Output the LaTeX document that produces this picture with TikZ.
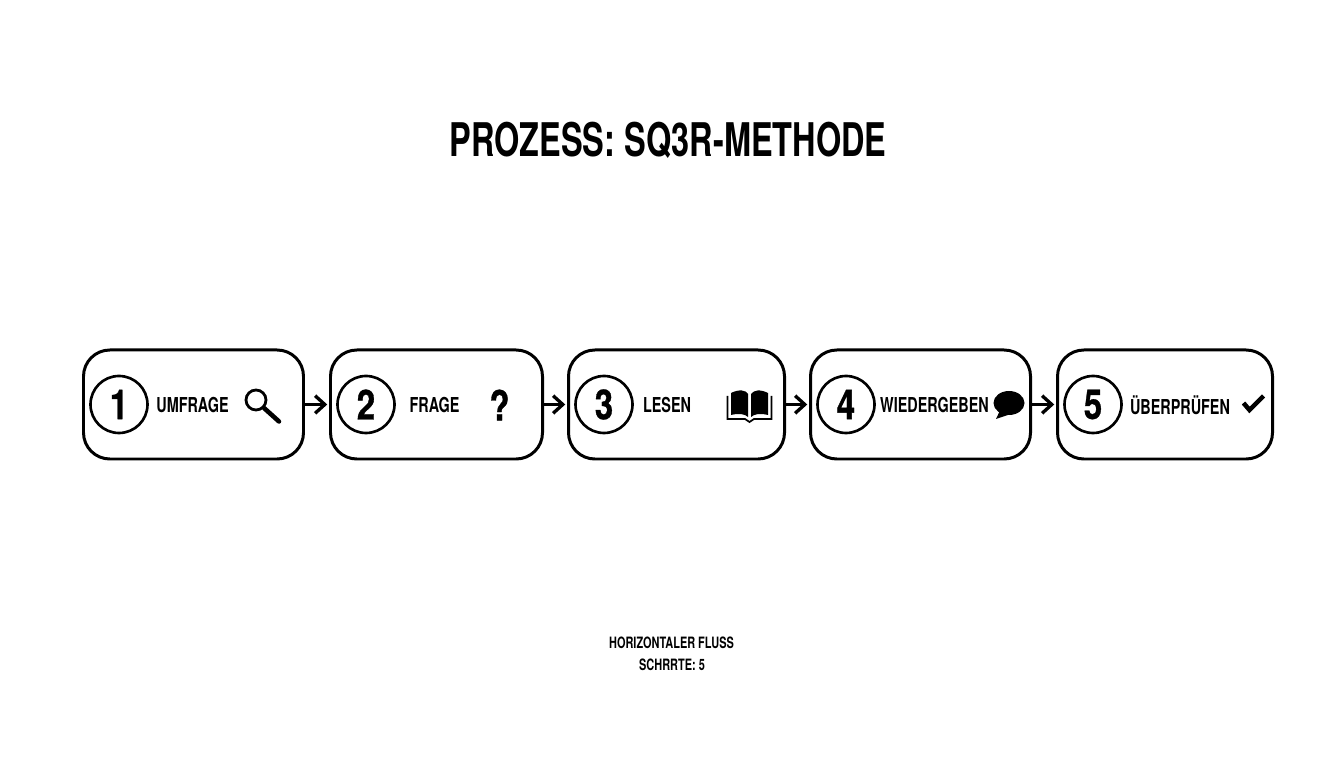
\documentclass[tikz,border=0pt]{standalone}
\usepackage{fontspec}
\setmainfont{TeX Gyre Heros}[FakeStretch=0.7,BoldFont=* Bold]
\newfontfamily\numfont{TeX Gyre Heros Bold}[FakeStretch=0.8,FakeBold=0.8]
\usetikzlibrary{arrows.meta}
\tikzset{
	stepbox/.style={draw,line width=1.7pt,rounded corners=15pt,minimum height=2.18cm,inner sep=0pt},
	numcircle/.style={circle,draw,line width=1.5pt,minimum size=1.14cm,inner sep=0pt,font=\fontsize{23.5}{24}\numfont},
	steplabel/.style={font=\fontsize{11.7}{12}\selectfont\bfseries,inner sep=0pt},
	footlabel/.style={font=\fontsize{8.9}{9}\selectfont\bfseries,inner sep=0pt},
	flow/.style={-{Straight Barb[length=5.5pt,width=10pt]},line width=1.9pt,shorten >=1pt},
}
\begin{document}
\begin{tikzpicture}
	\useasboundingbox (0,0) rectangle (26.88,15.36);
	\node[font=\fontsize{26.4}{27}\selectfont\bfseries,inner sep=0pt] (title) at (13.36,12.56) {PROZESS: SQ3R-METHODE};
	% boxes
	\node[stepbox,minimum width=4.4cm] (umfrage) at (3.87,7.27) {};
	\node[stepbox,minimum width=4.24cm] (frage) at (8.73,7.27) {};
	\node[stepbox,minimum width=4.32cm] (lesen) at (13.53,7.27) {};
	\node[stepbox,minimum width=4.4cm] (wiedergeben) at (18.41,7.27) {};
	\node[stepbox,minimum width=4.3cm] (pruefen) at (23.30,7.27) {};
	% numbers
	\node[numcircle] (n1) at (2.38,7.27) {1};
	\node[numcircle] (n2) at (7.32,7.27) {2};
	\node[numcircle] (n3) at (12.08,7.27) {3};
	\node[numcircle] (n4) at (16.92,7.27) {4};
	\node[numcircle] (n5) at (21.86,7.27) {5};
	% labels
	\node[steplabel] (l1) at (3.85,7.26) {UMFRAGE};
	\node[steplabel] (l2) at (8.69,7.26) {FRAGE};
	\node[steplabel] (l3) at (13.34,7.26) {LESEN};
	\node[steplabel] (l4) at (18.69,7.26) {WIEDERGEBEN};
	\node[steplabel] (l5) at (23.60,7.26) {ÜBERPRÜFEN};
	% icons
	\draw[line width=1.6pt] (5.12,7.36) circle (.2);
	\draw[line width=2.6pt,line cap=round] (5.28,7.2) -- (5.58,6.93);
	\node[font=\fontsize{23.5}{24}\numfont,inner sep=0pt] (q) at (9.99,7.26) {?};
	\fill (14.62,7.5) .. controls (14.78,7.58) and (14.92,7.56) .. (14.96,7.48) -- (14.96,7.02) .. controls (14.9,7.08) and (14.78,7.1) .. (14.62,7.06) -- cycle;
	\fill (15.02,7.48) .. controls (15.08,7.56) and (15.2,7.58) .. (15.36,7.5) -- (15.36,7.06) .. controls (15.2,7.1) and (15.08,7.08) .. (15.02,7.02) -- cycle;
	\draw[line width=1pt] (14.55,7.44) -- (14.55,6.98) -- (14.9,6.98) -- (14.99,6.92) -- (15.08,6.98) -- (15.43,6.98) -- (15.43,7.44);
	\fill (20.18,7.3) ellipse (.31 and .24);
	\fill (20.0,7.15) -- (19.92,6.98) -- (20.22,7.08) -- cycle;
	\draw[line width=2.6pt] (24.87,7.3) -- (24.99,7.16) -- (25.27,7.44);
	% flow
	\draw[flow] (umfrage) -- (frage);
	\draw[flow] (frage) -- (lesen);
	\draw[flow] (lesen) -- (wiedergeben);
	\draw[flow] (wiedergeben) -- (pruefen);
	% footer
	\node[footlabel] (f1) at (13.43,2.5) {HORIZONTALER FLUSS};
	\node[footlabel] (f2) at (13.44,2.07) {SCHRRTE: 5};
\end{tikzpicture}
\end{document}
